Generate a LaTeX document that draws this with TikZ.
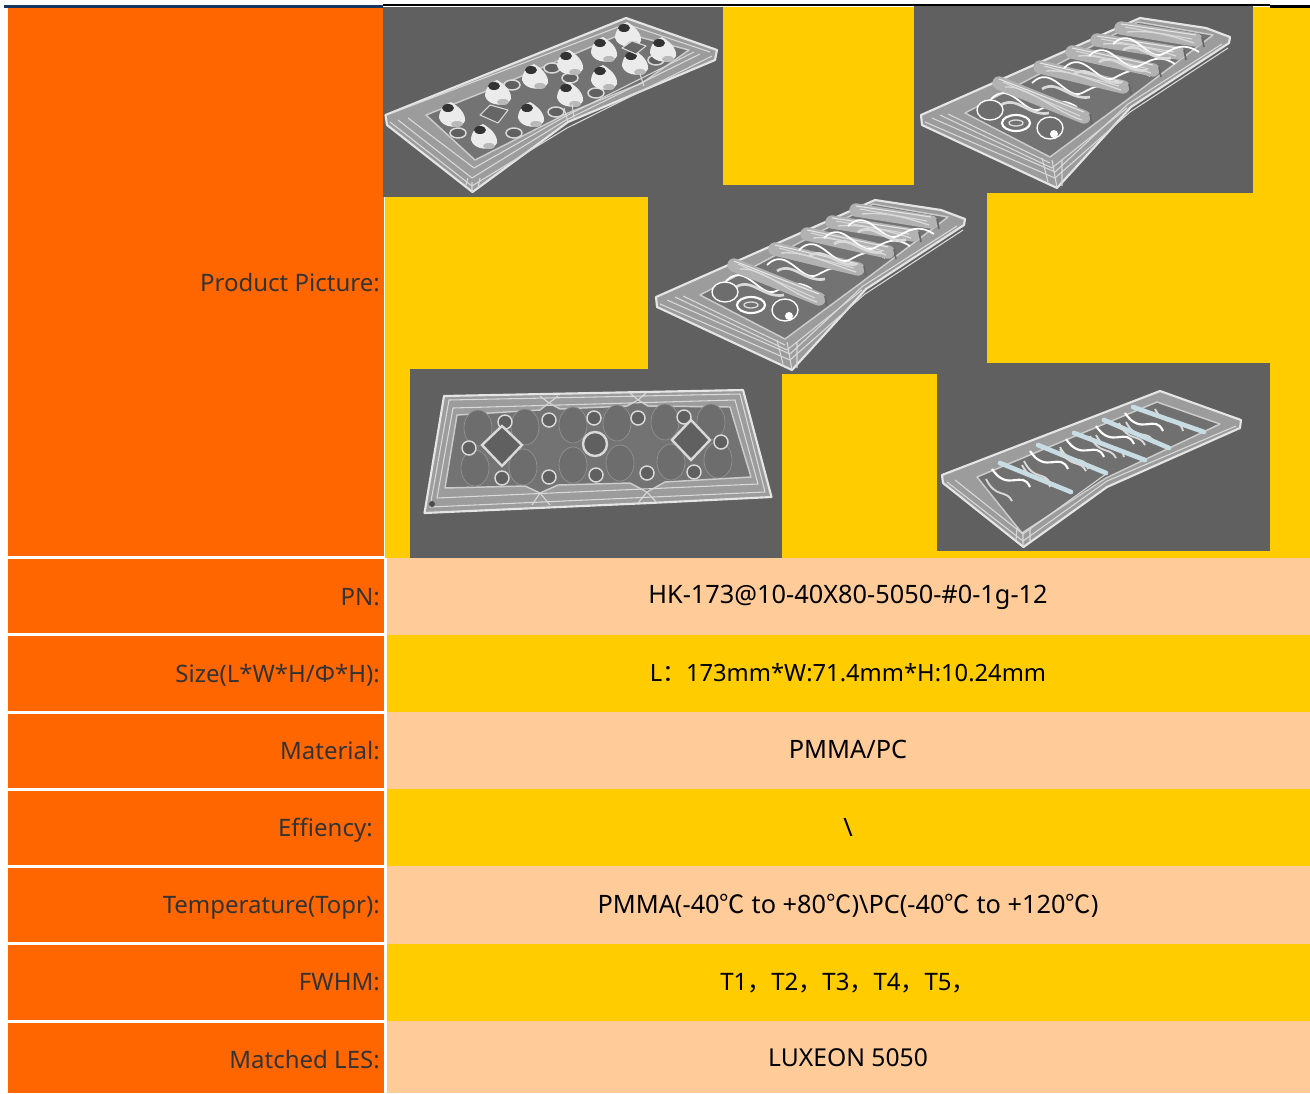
\documentclass[tikz,border=0pt]{standalone}
\usepackage{fontspec}
\setmainfont{Noto Sans}
\newfontfamily\cjk{Noto Sans CJK SC}
\definecolor{cellorange}{HTML}{FF6600}
\definecolor{cellyellow}{HTML}{FFCC00}
\definecolor{cellpeach}{HTML}{FFCC99}
\definecolor{photogray}{HTML}{606060}
\definecolor{toprule}{HTML}{17375E}
\definecolor{ribblue}{HTML}{C8DCE4}
\tikzset{
    row label/.style = {
        anchor = base east,
        inner sep = 0pt,
        text = black!80,
        font = \fontsize{18}{22}\selectfont
    },
    row value/.style = {
        anchor = base,
        inner sep = 0pt,
        text = black,
        font = \fontsize{19}{23}\selectfont
    },
    plate body/.style = {
        draw = white!90!black,
        fill = photogray!62!white,
        line width = 1.6pt,
        line join = round
    },
    plate floor/.style = {
        draw = white!80!black,
        fill = photogray!88!white,
        line width = 1.1pt,
        line join = round
    },
    plate line/.style = {
        draw = white!85!black,
        line width = 0.8pt,
        line join = round
    },
    lens ring/.style = {
        draw = white!85!black,
        fill = photogray,
        line width = 1.1pt
    },
    lens dome/.style = {
        draw = gray!85!white,
        fill = photogray!92!white,
        line width = 0.5pt
    },
    lens rib/.style = {
        draw = #1,
        line width = 10pt,
        line cap = round
    },
    % the same ribbed plate shows up twice
    ribbed plate/.pic = {
        \filldraw[plate body] (921,115) -- (1140,18) -- (1206,28) -- (1230,37) -- (1229,43)
            -- (1131,107) -- (1057,188) -- (922,125) -- cycle;
        \filldraw[plate floor] (965,113) -- (1138,22) -- (1213,35) -- (1127,100) -- (1050,157) -- cycle;
        \draw[plate line] (925,122) -- (1055,178) -- (1130,112) -- (1228,48);
        \draw[plate line] (932,118) -- (1055,172) -- (1128,104) -- (1222,44);
        \draw[plate line] (940,115) -- (1052,168) -- (1127,108);
        \draw[plate line] (948,114) -- (1050,163);
        \draw[plate line] (1052,160) -- (1057,188) (1062,160) -- (1062,186) (1042,158) -- (1048,182);
        \foreach \xa/\ya/\xb/\yb in {999/83/1084/117, 1040/67/1123/87, 1072/52/1153/70, 1097/40/1178/53, 1121/28/1196/40} {
            \draw[white, line width = 1.3pt] (\xa-8,\ya+16) .. controls (\xa+12,\ya-4) and (\xa+26,\ya+34) .. (\xa+42,\ya+26)
                .. controls (\xa+54,\ya+20) and (\xa+62,\ya+14) .. (\xa+78,\ya+24);
            \draw[gray!30, line width = 2pt] (\xa+2,\ya+22) .. controls (\xa+18,\ya+12) and (\xa+30,\ya+34) .. (\xa+50,\ya+30);
            \draw[lens rib = gray!60] (\xa,\ya) -- (\xb,\yb);
            \draw[white!90!black, line width = 0.8pt] (\xa,\ya-4) -- (\xb,\yb-5);
            \draw[white!85!black, line width = 1pt] (\xa+6,\ya+4) .. controls (\xa+28,\ya+2) and (\xb-30,\yb-6) .. (\xb-2,\yb+3);
            \draw[gray!30, line width = 0.8pt] (\xa+4,\ya-1) -- (\xb-4,\yb-1);
            \draw[black!60, line width = 1.2pt] (\xb+6,\yb-3) -- (\xb+8,\yb+7);
        }
        \draw[white, line width = 1.6pt] (1016,123) ellipse (14 and 8);
        \draw[white!85!black, line width = 1pt] (1016,123) ellipse (7 and 3);
        \filldraw[lens dome, draw = white, line width = 1pt] (1050,128) ellipse (13 and 11);
        \filldraw[lens dome, draw = white, line width = 1pt] (990,110) ellipse (13 and 10);
        \fill[white] (1054,134) circle (4);
    }
}

\begin{document}
\begin{tikzpicture}[x = 0.75pt, y = -0.75pt]
    \useasboundingbox (0,0) rectangle (1310,1093);

    % left column
    \fill[cellorange] (8,7.5) rectangle (383.5,556);
    \fill[cellorange] (8,559) rectangle (384,633);
    \fill[cellorange] (8,636) rectangle (384,711);
    \fill[cellorange] (8,714) rectangle (384,788);
    \fill[cellorange] (8,791) rectangle (384,865);
    \fill[cellorange] (8,868) rectangle (384,942);
    \fill[cellorange] (8,945) rectangle (384,1020);
    \fill[cellorange] (8,1023) rectangle (384,1093);

    % right column
    \fill[cellyellow] (385,7) rectangle (1310,558);
    \fill[cellpeach] (386.5,558) rectangle (1310,635);
    \fill[cellyellow] (386.5,635) rectangle (1310,712);
    \fill[cellpeach] (386.5,712) rectangle (1310,789);
    \fill[cellyellow] (386.5,789) rectangle (1310,866);
    \fill[cellpeach] (386.5,866) rectangle (1310,944);
    \fill[cellyellow] (386.5,944) rectangle (1310,1021);
    \fill[cellpeach] (386.5,1021) rectangle (1310,1093);

    % photo backgrounds
    \fill[photogray] (383,7) rectangle (723,197);
    \fill[photogray] (914,5) rectangle (1253,193);
    \fill[photogray] (648,185) rectangle (987,374);
    \fill[photogray] (410,369) rectangle (782,558);
    \fill[photogray] (937,363) rectangle (1270,551);

    % top rules
    \fill[toprule] (4,5) rectangle (383,7.5);
    \fill[black] (383,4) rectangle (1270,6);
    \fill[black] (1270,5) rectangle (1310,7.5);

    % plate with round domes
    \filldraw[plate body] (385.5,115) -- (626,18) -- (717,50) -- (715,60) -- (568,122) -- (472.5,192) -- (387,125) -- cycle;
    \filldraw[plate floor] (426,115) -- (484,92) -- (624,33) -- (689,50) -- (642,83) -- (568,113) -- (475,160) -- cycle;
    \draw[plate line] (390,122) -- (472,186) -- (567,128) -- (712,56);
    \draw[plate line] (398,120) -- (472,178) -- (566,120) -- (700,54);
    \draw[plate line] (408,118) -- (474,168) -- (566,116) -- (694,52);
    \draw[plate line] (392,113) -- (626,24) -- (710,52);
    \foreach \cx/\cy in {458/133, 514/133, 556/112, 570/78, 596/93, 512/85, 552/68, 656/60} {
        \filldraw[lens ring] (\cx,\cy) ellipse (8 and 5);
    }
    \foreach \cx/\cy in {452/115, 498/93, 484/137, 531/115, 535/77, 570/63, 570/95, 604/50, 604/78, 628/35, 635/63, 663/50} {
        \fill[white!92!black] (\cx-13,\cy+3) .. controls (\cx-13,\cy-6) and (\cx-6,\cy-11) .. (\cx-1,\cy-13)
            .. controls (\cx+6,\cy-9) and (\cx+14,\cy-2) .. (\cx+13,\cy+6)
            .. controls (\cx+10,\cy+14) and (\cx-10,\cy+14) .. (\cx-13,\cy+3) -- cycle;
        \fill[gray!55] (\cx+5,\cy+9) ellipse (6 and 3);
        \fill[black!80] (\cx-4,\cy-7) ellipse (6 and 4);
    }
    \filldraw[plate line, fill = gray!80!black] (480,115) -- (490,105) -- (508,110) -- (498,123) -- cycle;
    \filldraw[plate line, fill = gray!80!black] (622,48) -- (632,41) -- (646,46) -- (636,54) -- cycle;
    \draw[plate line] (472,192) -- (472,182) (466,185) -- (468,178) (478,188) -- (480,178);
    \draw[plate line] (568,122) -- (564,108) (574,118) -- (572,104) (644,86) -- (640,74);

    % plates with ribs across
    \pic at (0,0) {ribbed plate};
    \pic at (-265,182) {ribbed plate};

    % plate seen from above
    \filldraw[plate body] (444,396) -- (743,390) -- (771.5,497) -- (650,503) -- (424.5,513) -- cycle;
    \filldraw[plate floor] (457,415) -- (540,410) -- (549,403) -- (560,409) -- (627,406) -- (638,400) -- (648,406) -- (730,407) -- (751,477)
        -- (665,482) -- (647,492) -- (630,483) -- (558,485) -- (540,493) -- (525,486) -- (445,488) -- cycle;
    \draw[plate line] (449,400) -- (740,394) -- (765,492) -- (430,507) -- cycle;
    \draw[plate line] (453,408) -- (735,400) -- (758,484) -- (437,498) -- cycle;
    \foreach \cx/\cy in {478/428, 525/427, 573/425, 617/423, 665/422, 711/422, 475/468, 523/467, 573/465, 620/463, 671/462, 718/460} {
        \filldraw[lens dome] (\cx,\cy) ellipse (14 and 18);
    }
    \foreach \cx/\cy in {505/422, 549/420, 594/418, 638/418, 684/417, 502/478, 549/477, 596/475, 647/473, 694/472, 469/448, 721/442} {
        \filldraw[lens ring] (\cx,\cy) circle (7);
    }
    \filldraw[lens ring, line width = 1.8pt] (595,444) circle (12);
    \filldraw[lens ring, line width = 1.8pt] (502,426) -- (522,445) -- (502,466) -- (482,445) -- cycle;
    \filldraw[lens ring, line width = 1.8pt] (691,420) -- (710,440) -- (691,460) -- (672,440) -- cycle;
    \draw[plate line] (549,403) -- (540,396) (549,403) -- (558,396) (638,400) -- (630,393) (638,400) -- (646,393);
    \draw[plate line] (540,493) -- (532,505) (540,493) -- (550,505) (647,492) -- (638,503) (647,492) -- (657,503);
    \fill[black!70] (432,504) circle (3);

    % plate with pale ribs
    \filldraw[plate body] (942,475) -- (1160,391) -- (1241,420) -- (1240,428) -- (1107,487) -- (1023.5,547) -- (943,483) -- cycle;
    \filldraw[plate floor, fill = gray!50!photogray] (977,477) -- (1157,402) -- (1220,424) -- (1106,478) -- (1022,533) -- cycle;
    \draw[plate line] (947,482) -- (1023,541) -- (1107,481) -- (1236,426);
    \draw[plate line] (955,480) -- (1023,534) -- (1106,474);
    \foreach \xa/\ya/\xb/\yb in {1000/463/1071/492, 1038/445/1106/473, 1074/433/1145/460, 1104/420/1169/448, 1133/407/1204/432} {
        \draw[white, line width = 1.6pt] (\xa-8,\ya+6) .. controls (\xa+8,\ya+30) and (\xa+22,\ya+6) .. (\xa+30,\ya+24);
        \draw[white!85!black, line width = 1.4pt] (\xa+22,\ya+2) .. controls (\xa+32,\ya+22) and (\xa+46,\ya+8) .. (\xa+50,\ya+24);
        \draw[white!85!black, line width = 1.4pt] (\xa-14,\ya+16) .. controls (\xa-4,\ya+36) and (\xa+6,\ya+26) .. (\xa+12,\ya+38);
        \draw[ribblue, line width = 3.5pt, line cap = round] (\xa,\ya) -- (\xb,\yb);
    }
    \draw[plate line] (1023,547) -- (1023,532) (1016,540) -- (1017,528) (1030,541) -- (1030,528);

    % row labels
    \node[row label] (picture label) at (380,291.7) {Product Picture:};
    \node[row label] (pn label) at (380,605) {PN:};
    \node[row label] (size label) at (380,682) {Size(L*W*H/Φ*H):};
    \node[row label] (material label) at (380,759) {Material:};
    \node[row label] (efficiency label) at (373,836.7) {Effiency:};
    \node[row label] (temperature label) at (380,913.6) {Temperature(Topr):};
    \node[row label] (fwhm label) at (380,990.5) {FWHM:};
    \node[row label] (les label) at (380,1068.7) {Matched LES:};

    % row values
    \node[row value] (pn value) at (848,603) {HK-173@10-40X80-5050-\#0-1g-12};
    \node[row value, font = \fontsize{17.8}{22}\selectfont] (size value) at (848,681) {L{\cjk：}173mm*W:71.4mm*H:10.24mm};
    \node[row value] (material value) at (848,758) {PMMA/PC};
    \node[row value] (efficiency value) at (848,836.5) {\textbackslash};
    \node[row value] (temperature value) at (848,913) {PMMA(-40{\cjk ℃} to +80{\cjk ℃})\textbackslash PC(-40{\cjk ℃} to +120{\cjk ℃})};
    \node[row value, font = \fontsize{18}{22}\selectfont] (fwhm value) at (848,990) {T1{\cjk，}T2{\cjk，}T3{\cjk，}T4{\cjk，}T5{\cjk，}};
    \node[row value, font = \fontsize{18.5}{22}\selectfont] (les value) at (848,1066.6) {LUXEON 5050};
\end{tikzpicture}
\end{document}
